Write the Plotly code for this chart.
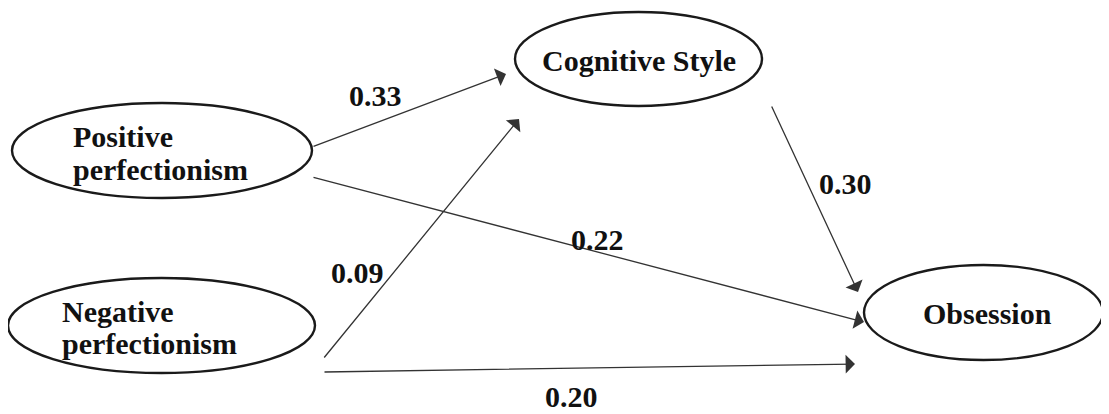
import plotly.graph_objects as go

# ---- data ----
node_names = ["Cognitive Style", "Positive perfectionism", "Negative perfectionism", "Obsession"]
node_label_lines = [["Cognitive Style"], ["Positive", "perfectionism"], ["Negative", "perfectionism"], ["Obsession"]]
path_from = ["Positive perfectionism", "Negative perfectionism", "Positive perfectionism", "Cognitive Style", "Negative perfectionism"]
path_to = ["Cognitive Style", "Cognitive Style", "Obsession", "Obsession", "Obsession"]
path_coef = [0.33, 0.09, 0.22, 0.30, 0.20]

# ---- layout (pixel space of the diagram) ----
W, H = 1109, 414
PAGE_OFFSET = 8  # default body margin of the html page
node_box = {  # x0, x1, y0, y1
    "Cognitive Style": (515, 762, 12, 106),
    "Positive perfectionism": (12, 312, 103, 198),
    "Negative perfectionism": (8, 315, 278, 373),
    "Obsession": (864, 1103, 265, 360),
}
node_text_pos = {  # (x, y list, anchor)
    "Cognitive Style": (639, [60], "center"),
    "Positive perfectionism": (71, [136, 169], "left"),
    "Negative perfectionism": (60, [311, 343], "left"),
    "Obsession": (987, [313], "center"),
}
path_geom = [  # tail(x,y), head(x,y), label(x,y)
    ((312, 147), (506, 74), (375, 95)),
    ((323, 359), (519, 119), (357, 272)),
    ((312, 177), (864, 322), (597, 239)),
    ((771, 105), (858, 292), (845, 183)),
    ((323, 372), (855, 364), (571, 396)),
]

FONT = "Liberation Serif"
fig = go.Figure()
fig.add_trace(go.Scatter(x=[PAGE_OFFSET, W], y=[PAGE_OFFSET, H], mode="markers", marker=dict(opacity=0),
                         hoverinfo="skip", showlegend=False))

shapes = []
annotations = []
for name, lines in zip(node_names, node_label_lines):
    x0, x1, y0, y1 = node_box[name]
    shapes.append(dict(type="circle", xref="x", yref="y", x0=x0, x1=x1, y0=y0, y1=y1,
                       line=dict(color="#1a1a1a", width=2.4), fillcolor="rgba(0,0,0,0)"))
    tx, tys, anchor = node_text_pos[name]
    for line, ty in zip(lines, tys):
        annotations.append(dict(x=tx, y=ty, xref="x", yref="y", text="<b>%s</b>" % line,
                                showarrow=False, xanchor=anchor, yanchor="middle",
                                font=dict(family=FONT, size=30, color="#111111")))

for src, dst, coef, (tail, head, lab) in zip(path_from, path_to, path_coef, path_geom):
    annotations.append(dict(x=head[0], y=head[1], ax=tail[0], ay=tail[1], xref="x", yref="y",
                            axref="x", ayref="y", text="", showarrow=True, arrowhead=1,
                            arrowsize=2.4, arrowwidth=1.3, arrowcolor="#333333", standoff=0))
    annotations.append(dict(x=lab[0], y=lab[1], xref="x", yref="y", text="<b>%.2f</b>" % coef,
                            showarrow=False, xanchor="center", yanchor="middle",
                            font=dict(family=FONT, size=30, color="#111111")))

fig.update_layout(
    width=W - PAGE_OFFSET, height=H - PAGE_OFFSET, margin=dict(l=0, r=0, t=0, b=0),
    paper_bgcolor="white", plot_bgcolor="white",
    xaxis=dict(range=[PAGE_OFFSET, W], visible=False, fixedrange=True),
    yaxis=dict(range=[H, PAGE_OFFSET], visible=False, fixedrange=True),
    shapes=shapes, annotations=annotations, showlegend=False,
)
fig.write_html("out.html")
